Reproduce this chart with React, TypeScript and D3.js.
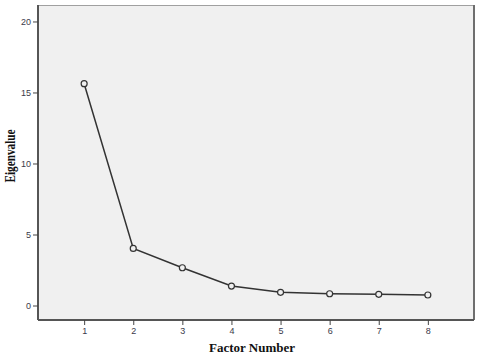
import { useEffect, useRef } from 'react';
import * as d3 from 'd3';

const FACTORS = [1, 2, 3, 4, 5, 6, 7, 8];
const EIGENVALUES = [15.62, 4.02, 2.66, 1.37, 0.93, 0.83, 0.79, 0.74];
const Y_TICKS = [0, 5, 10, 15, 20];

const WIDTH = 480;
const HEIGHT = 360;
const PLOT = { left: 38, top: 5, right: 474, bottom: 320 };

export default function App() {
  const svgRef = useRef<SVGSVGElement | null>(null);

  useEffect(() => {
    if (!svgRef.current) return;
    const svg = d3.select(svgRef.current);
    svg.selectAll('*').remove();

    const x = d3.scaleLinear().domain([0.06, 8.94]).range([PLOT.left, PLOT.right]);
    const y = d3.scaleLinear().domain([-1.02, 21.16]).range([PLOT.bottom, PLOT.top]);

    // plot background + frame
    svg
      .append('rect')
      .attr('x', PLOT.left)
      .attr('y', PLOT.top)
      .attr('width', PLOT.right - PLOT.left)
      .attr('height', PLOT.bottom - PLOT.top)
      .attr('fill', '#f0f0f0');
    svg
      .append('line')
      .attr('x1', PLOT.left)
      .attr('x2', PLOT.right)
      .attr('y1', PLOT.top + 0.5)
      .attr('y2', PLOT.top + 0.5)
      .attr('stroke', '#a0a0a0');
    svg
      .append('line')
      .attr('x1', PLOT.right)
      .attr('x2', PLOT.right)
      .attr('y1', PLOT.top)
      .attr('y2', PLOT.bottom)
      .attr('stroke', '#6e6e6e')
      .attr('stroke-width', 2);

    const yAxis = svg
      .append('g')
      .attr('transform', `translate(${PLOT.left},0)`)
      .call(d3.axisLeft(y).tickValues(Y_TICKS).tickSize(5).tickPadding(2));
    const xAxis = svg
      .append('g')
      .attr('transform', `translate(0,${PLOT.bottom})`)
      .call(d3.axisBottom(x).tickValues(FACTORS).tickSize(5).tickPadding(3));

    [yAxis, xAxis].forEach(g => {
      g.select('.domain').attr('stroke', '#555').attr('stroke-width', 2);
      g.selectAll('.tick line').attr('stroke', '#444');
      g.selectAll('.tick text')
        .attr('fill', '#3a3a4a')
        .style('font-family', 'Arial, "Liberation Sans", sans-serif')
        .style('font-size', '9px');
    });
    yAxis.select('.domain').attr('d', `M0,${PLOT.top}V${PLOT.bottom}`);
    xAxis.select('.domain').attr('d', `M${PLOT.left},0H${PLOT.right}`);

    const line = d3
      .line<number>()
      .x((_, i) => x(FACTORS[i]))
      .y(d => y(d));

    svg
      .append('path')
      .datum(EIGENVALUES)
      .attr('d', line)
      .attr('fill', 'none')
      .attr('stroke', '#333')
      .attr('stroke-width', 1.5);

    svg
      .selectAll('circle.pt')
      .data(EIGENVALUES)
      .join('circle')
      .attr('class', 'pt')
      .attr('cx', (_, i) => x(FACTORS[i]))
      .attr('cy', d => y(d))
      .attr('r', 3)
      .attr('fill', '#f0f0f0')
      .attr('stroke', '#333')
      .attr('stroke-width', 1.2);

    svg
      .append('text')
      .attr('x', 252)
      .attr('y', 352)
      .attr('text-anchor', 'middle')
      .style('font-family', '"Liberation Serif", "Times New Roman", serif')
      .style('font-weight', 'bold')
      .style('font-size', '13px')
      .attr('fill', '#111')
      .text('Factor Number');

    svg
      .append('text')
      .attr('transform', 'translate(15,156) rotate(-90)')
      .attr('text-anchor', 'middle')
      .attr('textLength', 53)
      .attr('lengthAdjust', 'spacingAndGlyphs')
      .style('font-family', '"Liberation Serif", "Times New Roman", serif')
      .style('font-weight', 'bold')
      .style('font-size', '14px')
      .attr('fill', '#111')
      .text('Eigenvalue');
  }, []);

  return (
    <svg
      ref={svgRef}
      width={WIDTH}
      height={HEIGHT}
      style={{ position: 'absolute', left: 0, top: 0, background: '#fff' }}
    />
  );
}
